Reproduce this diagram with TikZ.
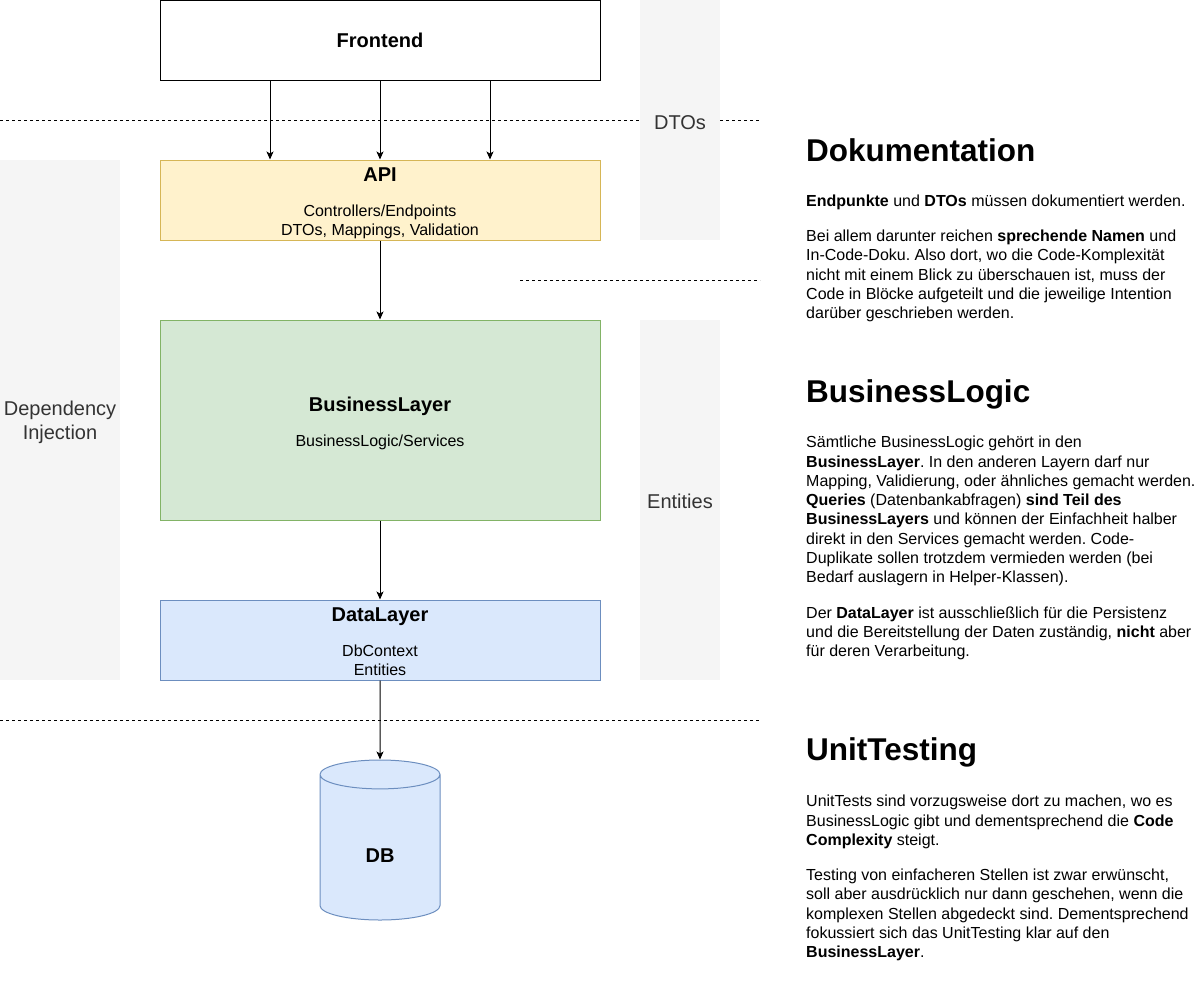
\documentclass[tikz,border=0pt]{standalone}
\usepackage{fontspec}
\setmainfont{Liberation Sans}
\usetikzlibrary{arrows.meta,shapes.geometric}
\frenchspacing

\definecolor{apifill}{HTML}{FFF2CC}
\definecolor{apiline}{HTML}{D6B656}
\definecolor{bizfill}{HTML}{D5E8D4}
\definecolor{bizline}{HTML}{82B366}
\definecolor{datafill}{HTML}{DAE8FC}
\definecolor{dataline}{HTML}{6C8EBF}
\definecolor{bandfill}{HTML}{F5F5F5}
\definecolor{bandtext}{HTML}{333333}

\newcommand{\layertitle}[1]{{\fontsize{20}{24}\selectfont\bfseries #1}}
\newcommand{\topstrut}[1]{\rule{0pt}{#1}}

\tikzstyle{layer box}=[rectangle,draw,line width=1pt,minimum width=440pt,inner sep=0pt,align=center,font=\fontsize{16}{19.3}\selectfont]
\tikzstyle{side band}=[rectangle,fill=bandfill,inner sep=0pt,align=center,text=bandtext,font=\fontsize{20}{24}\selectfont]
\tikzstyle{db cylinder}=[cylinder,shape border rotate=90,shape aspect=1,minimum width=120pt,minimum height=160pt,draw=dataline,fill=datafill,line width=1pt,inner sep=0pt,font=\fontsize{20}{24}\selectfont\bfseries]
\tikzstyle{flow edge}=[draw,line width=1pt,-{Stealth[length=8pt,width=7pt,inset=2pt]}]
\tikzstyle{sep line}=[draw,line width=1pt,dash pattern=on 3pt off 3pt]
\tikzstyle{section head}=[anchor=base west,inner sep=0pt,font=\fontsize{31.5}{38}\selectfont\bfseries]
\tikzstyle{note text}=[anchor=north west,inner sep=0pt,align=left,font=\fontsize{16}{19.3}\selectfont]

\begin{document}
\begin{tikzpicture}[x=1pt,y=-1pt]
  \useasboundingbox (0,0) rectangle (1202,1001);
  % layer borders, behind everything
  \path[sep line] (0,120) -- (760,120);
  \path[sep line] (520,280) -- (760,280);
  \path[sep line] (0,720) -- (760,720);
  % side bands
  \node[side band,minimum width=120pt,minimum height=520pt] (di) at (60,420) {\topstrut{19pt}Dependency\\Injection};
  \node[side band,minimum width=80pt,minimum height=240pt] (dtos) at (680,120) {\topstrut{19pt}DTOs};
  \node[side band,minimum width=80pt,minimum height=360pt] (ent) at (680,500) {\topstrut{17pt}Entities};
  % layers
  \node[layer box,minimum height=80pt,fill=white,draw=black] (fe) at (380,40) {\layertitle{Frontend}};
  \node[layer box,minimum height=80pt,fill=apifill,draw=apiline] (api) at (380,200) {\topstrut{21pt}\layertitle{API}\\[15.5pt]Controllers/Endpoints\\DTOs, Mappings, Validation};
  \node[layer box,minimum height=200pt,fill=bizfill,draw=bizline] (biz) at (380,420) {\topstrut{21pt}\layertitle{BusinessLayer}\\[15.5pt]BusinessLogic/Services};
  \node[layer box,minimum height=80pt,fill=datafill,draw=dataline] (dl) at (380,640) {\topstrut{17pt}\layertitle{DataLayer}\\[15.5pt]DbContext\\Entities};
  \node[db cylinder,anchor=shape center] (db) at (380,840) {\topstrut{30pt}DB};
  % connectors
  \foreach \dx in {-110,0,110}
    \path[flow edge] ([xshift=\dx pt]fe.south) -- ([xshift=\dx pt]api.north);
  \foreach \source/\dest in {api/biz,biz/dl,dl/db}
    \path[flow edge] (\source) -- (\dest);
  % notes on the right
  \node[section head] (hdoc) at (806,161.7) {Dokumentation};
  \node[note text] (tdoc) at (806,194) {\topstrut{12pt}\textbf{Endpunkte} und \textbf{DTOs} müssen dokumentiert werden.\\[16pt]
    Bei allem darunter reichen \textbf{sprechende Namen} und\\
    In-Code-Doku. Also dort, wo die Code-Komplexität\\
    nicht mit einem Blick zu überschauen ist, muss der\\
    Code in Blöcke aufgeteilt und die jeweilige Intention\\
    darüber geschrieben werden.};
  \node[section head] (hbiz) at (806,402.3) {BusinessLogic};
  \node[note text] (tbiz) at (806,435.5) {\topstrut{12pt}Sämtliche BusinessLogic gehört in den\\
    \textbf{BusinessLayer}. In den anderen Layern darf nur\\
    Mapping, Validierung, oder ähnliches gemacht werden.\\
    \textbf{Queries} (Datenbankabfragen) \textbf{sind Teil des}\\
    \textbf{BusinessLayers} und können der Einfachheit halber\\
    direkt in den Services gemacht werden. Code-\\
    Duplikate sollen trotzdem vermieden werden (bei\\
    Bedarf auslagern in Helper-Klassen).\\[16pt]
    Der \textbf{DataLayer} ist ausschließlich für die Persistenz\\
    und die Bereitstellung der Daten zuständig, \textbf{nicht} aber\\
    für deren Verarbeitung.};
  \node[section head] (hunit) at (806,760.7) {UnitTesting};
  \node[note text] (tunit) at (806,794.5) {\topstrut{12pt}UnitTests sind vorzugsweise dort zu machen, wo es\\
    BusinessLogic gibt und dementsprechend die \textbf{Code}\\
    \textbf{Complexity} steigt.\\[16pt]
    Testing von einfacheren Stellen ist zwar erwünscht,\\
    soll aber ausdrücklich nur dann geschehen, wenn die\\
    komplexen Stellen abgedeckt sind. Dementsprechend\\
    fokussiert sich das UnitTesting klar auf den\\
    \textbf{BusinessLayer}.};
\end{tikzpicture}
\end{document}
